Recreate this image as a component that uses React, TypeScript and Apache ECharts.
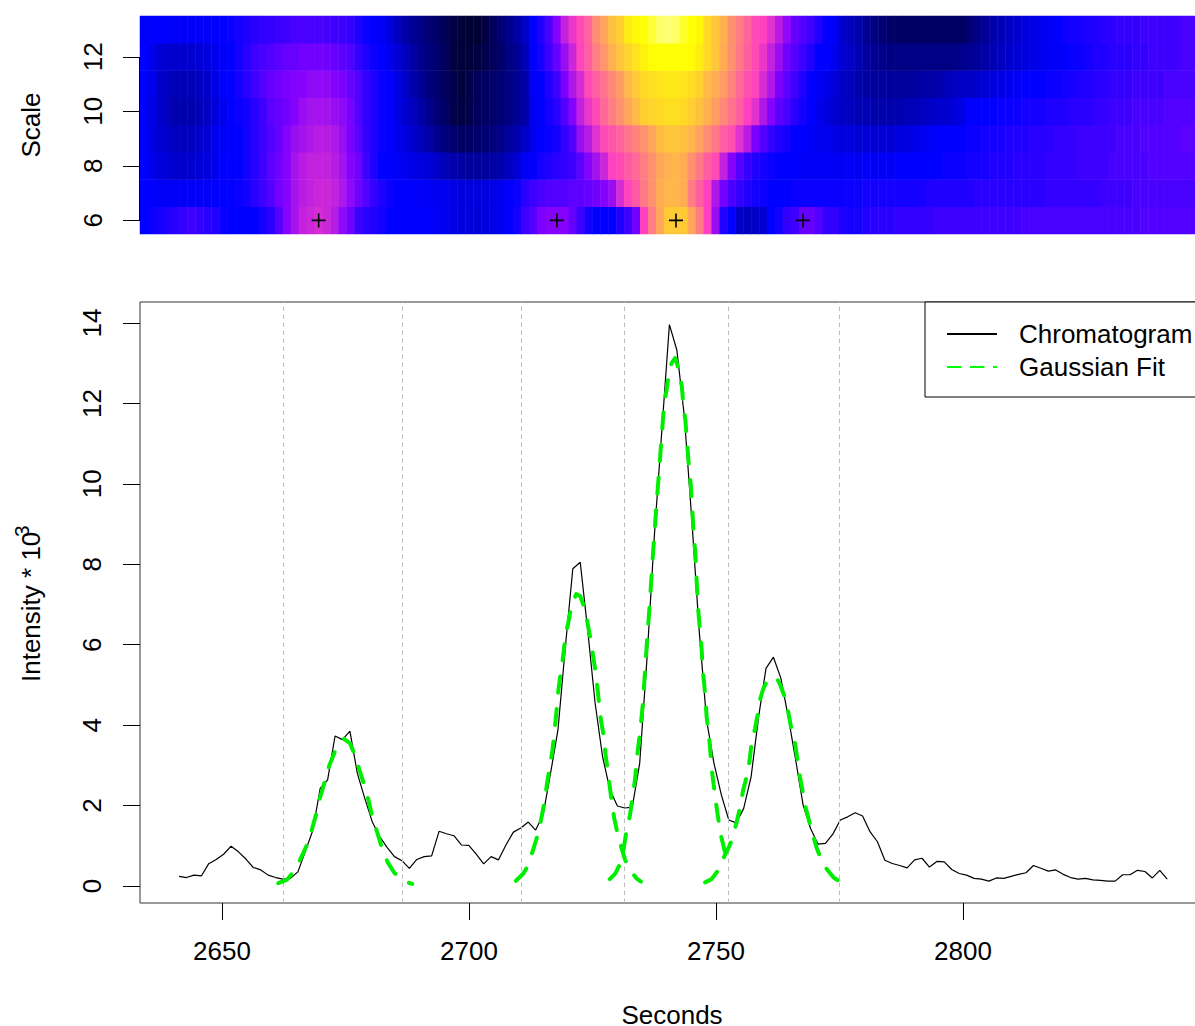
import React, { useEffect, useRef } from "react";
import * as echarts from "echarts";

const FONT = "Liberation Sans";
const FS = 26;

const scaleRows = ["6", "7", "8", "9", "10", "11", "12", "13"];
const scanColumns = Array.from({ length: 134 }, (_, i) => String(i));

const row6 = [
  25,26,27,28,29,30,31,30,29,28, 26,25,25,25,25,27,29,33,38,41, 44,45,46,45,43,39,36,31,29,28,
  27,25,25,25,25,25,25,24,23,22, 21,21,20,21,22,23,25,27,31,33, 37,38,38,38,35,31,27,25,25,25,
  28,31,36,50,62,70,77,77,77,70, 62,50,40,28,25,18,17,18,20,25, 27,30,31,35,35,33,30,30,28,27,
  27,28,29,29,29,30,30,30,30,30, 31,31,31,31,31,31,31,31,31,31, 31,32,32,32,32,32,32,32,32,32,
  32,32,32,32,32,32,33,33,33,33, 33,33,33,33];
const row7 = [
  25,25,24,24,24,24,24,24,24,25, 25,25,26,27,29,31,33,36,38,41, 43,44,45,45,44,42,39,36,33,30,
  28,26,25,25,25,24,24,23,23,22, 21,21,21,21,22,23,25,26,29,31, 32,33,33,33,34,34,35,36,38,40,
  46,51,55,61,66,71,73,73,71,62, 56,50,42,36,32,30,28,27,26,25, 25,25,26,26,26,26,26,26,26,26,
  26,27,27,27,27,27,27,27,27,28, 28,28,28,28,28,29,29,29,29,29, 29,29,29,29,30,30,30,30,30,30,
  30,31,31,31,31,32,32,32,32,32, 32,32,32,32];
const row8 = [
  25,23,21,20,19,19,19,20,21,23, 25,25,25,27,29,31,34,36,38,41, 43,44,44,44,43,41,38,36,31,28,
  25,25,24,23,22,21,20,18,16,15, 14,13,13,13,14,15,17,20,24,25, 27,28,29,30,31,34,38,41,45,50,
  52,55,58,62,66,70,72,73,71,66, 61,56,52,44,38,33,30,28,27,26, 25,25,25,24,24,24,24,24,24,24,
  24,24,24,24,24,25,25,25,25,25, 25,26,26,26,27,27,27,28,28,28, 29,29,29,29,30,30,30,30,31,31,
  31,31,32,32,32,32,32,33,33,33, 33,33,33,33];
const row9 = [
  25,22,20,18,17,17,17,18,20,23, 24,25,25,27,29,31,33,35,38,40, 41,42,43,43,42,40,37,34,30,28,
  26,25,23,21,19,16,14,11,9,7, 6,6,7,8,9,11,13,15,18,23, 25,26,27,30,33,40,43,47,52,54,
  57,60,63,66,70,74,76,76,75,73, 69,65,61,56,53,47,43,37,33,30, 28,27,25,25,24,23,23,22,21,21,
  20,20,20,20,20,21,21,22,23,24, 25,25,25,25,26,26,27,27,27,28, 28,28,29,29,29,30,30,30,31,31,
  31,31,31,32,32,32,33,33,33,33, 33,34,34,34];
const row10 = [
  25,22,19,17,15,15,15,16,18,21, 23,25,26,27,29,31,34,35,36,38, 40,41,41,41,40,39,37,33,30,28,
  26,25,22,19,17,14,11,8,6,3, 2,3,5,6,7,8,10,12,14,23, 25,27,29,33,38,44,48,52,58,62,
  66,70,74,78,79,80,81,81,80,78, 75,72,68,64,60,56,50,47,42,38, 34,32,29,27,25,23,21,19,18,17,
  16,16,15,15,15,15,16,16,17,18, 19,19,20,22,25,25,25,25,26,26, 26,27,27,27,28,28,28,29,29,29,
  30,30,31,31,31,32,32,32,32,33, 33,33,33,33];
const row11 = [
  25,23,19,17,16,16,16,17,19,22, 25,25,27,29,31,33,35,36,37,38, 38,39,39,39,38,37,35,33,30,28,
  26,25,22,18,15,12,9,7,5,3, 1,3,5,6,7,8,10,12,14,24, 25,28,31,37,42,46,52,56,60,64,
  68,73,77,80,81,82,83,83,82,81, 78,74,71,68,63,58,53,51,46,42, 37,34,31,28,25,24,22,20,18,17,
  15,14,13,13,13,13,13,13,14,14, 15,16,17,18,18,19,20,21,22,23, 24,25,25,25,26,26,27,27,28,28,
  29,29,30,30,30,31,31,31,31,32, 32,32,32,32];
const row12 = [
  25,23,20,19,19,19,19,20,21,23, 24,25,27,29,31,32,33,34,35,35, 36,36,36,36,35,34,33,30,28,26,
  25,23,20,17,14,11,9,7,5,2, 1,1,2,3,5,7,10,12,16,25, 27,31,35,40,45,51,56,62,67,72,
  76,79,82,85,87,88,88,88,88,87, 84,80,76,71,66,61,56,52,48,44, 40,36,33,31,28,25,25,23,20,18,
  16,13,12,11,10,10,10,10,10,10, 10,10,10,11,12,13,14,16,17,19, 20,21,22,23,24,24,25,26,26,27,
  28,28,29,29,29,30,30,31,31,31, 31,32,32,32];
const row13 = [
  24,25,25,25,24,24,24,24,24,25, 25,26,27,28,29,30,30,31,31,32, 32,32,32,32,31,31,30,28,26,25,
  24,21,17,14,12,10,8,6,4,2, 1,0,0,2,5,8,11,14,18,25, 28,32,38,44,48,52,57,65,70,75,
  78,84,86,88,92,96,97,96,91,88, 86,80,76,72,66,62,57,52,50,47, 43,39,35,33,31,28,25,24,19,17,
  15,12,10,8,7,6,6,6,6,6, 6,6,6,6,8,10,12,15,16,18, 19,21,22,23,24,25,26,27,27,28,
  28,29,29,30,30,30,31,31,31,31, 31,32,32,32];
const scaleValues = [row6, row7, row8, row9, row10, row11, row12, row13];
const rampColors = ["#000033", "#000099", "#0000FF", "#8000FF", "#FF40C0", "#FF8080", "#FFC040", "#FFFF00", "#FFFF99"];

const peakColumns = [22, 52, 67, 83];
const peakRow = ["6", "6", "6", "6"];

const chromStart = 2641.3;
const chromStep = 1.504;
const chromValues = [
  0.24,0.21,0.27,0.25,0.555,0.66,0.79,0.99,0.85,0.67, 0.46,0.40,0.27,0.21,0.17,0.19,0.35,0.86,1.38,2.43,
  2.64,3.73,3.64,3.85,2.80,2.18,1.60,1.23,0.96,0.73, 0.63,0.44,0.66,0.73,0.75,1.36,1.30,1.25,1.02,1.01,
  0.79,0.55,0.73,0.65,1.02,1.34,1.44,1.59,1.39,1.77, 2.80,3.88,5.95,7.89,8.05,6.37,4.55,3.22,2.39,1.99,
  1.94,1.96,3.05,5.70,8.78,11.37,13.96,13.33,11.70,9.15, 6.37,4.13,3.05,2.26,1.64,1.57,1.93,2.72,4.20,5.41,
  5.69,5.17,4.20,3.13,2.01,1.43,1.04,1.06,1.29,1.64, 1.72,1.82,1.74,1.35,1.10,0.64,0.56,0.51,0.45,0.65,
  0.69,0.47,0.61,0.60,0.41,0.31,0.27,0.19,0.17,0.12, 0.20,0.19,0.24,0.29,0.33,0.51,0.44,0.37,0.40,0.29,
  0.21,0.17,0.19,0.15,0.14,0.12,0.12,0.28,0.28,0.39, 0.36,0.20,0.39,0.17];

const fit1T = [2661.4,2663.1,2664.6,2665.8,2667.5,2668.2,2669.3,2669.8,2671.0,2671.7,2673.2,2674.7,2675.9,2676.9,2677.7,2678.9,2679.6,2680.5,2681.3,2682.5,2683.5,2684.7,2686.0,2687.4,2688.5];
const fit1V = [0.07,0.15,0.37,0.65,1.10,1.41,1.89,2.18,2.68,2.99,3.45,3.66,3.55,3.26,2.93,2.47,2.16,1.68,1.38,0.90,0.60,0.36,0.19,0.10,0.05];
const fit2T = [2709.5,2711.0,2712.0,2712.8,2714.0,2714.5,2715.3,2715.7,2716.4,2716.9,2717.6,2718.1,2718.6,2719.0,2719.6,2720.0,2720.8,2721.7,2722.5,2723.5,2724.0,2724.7,2725.1,2725.7,2726.0,2726.5,2726.7,2727.4,2727.6,2728.2,2728.5,2729.0,2729.4,2730.2,2731.2,2731.6,2732.6,2733.9,2734.8];
const fit2V = [0.13,0.31,0.52,0.83,1.31,1.60,2.10,2.47,3.01,3.38,4.21,4.88,5.33,5.66,6.29,6.49,6.99,7.26,7.21,6.87,6.53,6.08,5.75,5.25,4.92,4.34,4.13,3.63,3.30,2.76,2.47,2.01,1.68,1.23,0.81,0.65,0.40,0.19,0.11];
const fit3T = [2728.5,2729.6,2730.6,2731.2,2731.9,2732.6,2733.1,2733.6,2734.1,2734.6,2735.2,2735.6,2736.0,2736.5,2736.9,2737.2,2737.5,2738.0,2738.5,2739.0,2739.5,2740.0,2740.5,2741.0,2741.7,2742.2,2742.6,2743.1,2743.4,2743.8,2744.1,2744.3,2744.6,2744.9,2745.1,2745.3,2745.5,2745.8,2746.1,2746.4,2746.8,2747.1,2747.3,2747.6,2747.9,2748.1,2748.6,2748.8,2749.1,2749.5,2750.0,2750.4,2750.9,2751.7,2752.5];
const fit3V = [0.17,0.31,0.56,0.85,1.39,1.77,2.22,2.64,3.30,3.80,4.54,5.29,6.04,6.87,7.61,8.19,8.69,9.56,10.35,11.18,12.0,12.34,12.79,13.0,13.13,12.96,12.71,12.41,11.91,11.59,11.09,10.78,10.28,9.98,9.48,9.15,8.65,8.32,7.53,6.87,6.29,5.87,5.37,5.04,4.58,4.21,3.71,3.43,2.93,2.55,2.06,1.72,1.31,0.90,0.56];
const fit4T = [2747.8,2749.1,2750.5,2751.8,2752.5,2753.2,2754.2,2754.9,2755.5,2756.2,2756.8,2757.2,2757.9,2758.4,2758.9,2759.5,2760.1,2760.7,2761.5,2762.3,2763.0,2764.0,2764.6,2765.3,2766.0,2766.5,2767.0,2767.6,2768.2,2768.9,2769.7,2770.4,2771.2,2772.4,2773.8,2775.3];
const fit4V = [0.09,0.17,0.40,0.77,0.94,1.14,1.60,1.97,2.39,2.72,3.13,3.55,3.92,4.25,4.63,4.88,5.04,5.14,5.19,5.17,5.0,4.67,4.34,3.88,3.55,3.13,2.72,2.31,1.93,1.60,1.23,0.94,0.69,0.42,0.21,0.09];

const boundaryTimes = [2662.4, 2686.4, 2710.5, 2731.4, 2752.5, 2775.0];
const xTicks = [2650, 2700, 2750, 2800];
const yTicks = [0, 2, 4, 6, 8, 10, 12, 14];

const zip = (a: number[], b: number[]) => a.map((v, i) => [v, b[i]]);
const plus = "path://M6.2 0H7.8V6.2H14V7.8H7.8V14H6.2V7.8H0V6.2H6.2Z";

export default function App() {
  const ref = useRef<HTMLDivElement>(null);
  useEffect(() => {
    const chart = echarts.init(ref.current!, undefined, { renderer: "svg" });
    const heat: number[][] = [];
    scaleValues.forEach((row, r) => row.forEach((v, c) => heat.push([c, r, v])));
    const labelStyle = { fontFamily: FONT, fontSize: FS, color: "#000" };
    const fitSeries = (t: number[], v: number[]) => ({
      type: "line",
      name: "Gaussian Fit",
      xAxisIndex: 1,
      yAxisIndex: 1,
      data: zip(t, v),
      showSymbol: false,
      symbol: "none",
      silent: true,
      z: 5,
      lineStyle: { color: "#00EE00", width: 4, type: [16.2, 16.4], cap: "round", join: "round" },
      itemStyle: { color: "#00FF00" },
    });
    chart.setOption({
      animation: false,
      backgroundColor: "#fff",
      textStyle: { fontFamily: FONT },
      grid: [
        { left: 140, top: 16, width: 1064, height: 218, outerBoundsMode: "none" },
        { left: 140, top: 302, width: 1064, height: 601, outerBoundsMode: "none", show: true, borderColor: "#333", borderWidth: 1, backgroundColor: "transparent" },
      ],
      xAxis: [
        { gridIndex: 0, type: "category", data: scanColumns, show: false },
        {
          gridIndex: 1, type: "value", min: 2633.4, max: 2848.78,
          name: "Seconds", nameLocation: "middle", nameGap: 99,
          nameTextStyle: labelStyle,
          splitLine: { show: false },
          axisLine: { show: false, onZero: false },
          axisTick: { show: true, length: 17, customValues: xTicks, lineStyle: { color: "#000", width: 1 } },
          axisLabel: { show: true, customValues: xTicks, margin: 35, formatter: (v: number) => String(v), ...labelStyle },
        },
      ],
      yAxis: [
        {
          gridIndex: 0, type: "category", data: scaleRows,
          name: "Scale", nameLocation: "middle", nameGap: 96, nameRotate: 90,
          nameTextStyle: labelStyle,
          axisLine: { show: false },
          axisTick: { show: true, length: 17, interval: 1, alignWithLabel: true, lineStyle: { color: "#000", width: 1 } },
          axisLabel: { show: true, interval: 1, rotate: 90, margin: 34, ...labelStyle },
          splitLine: { show: false },
        },
        {
          gridIndex: 1, type: "value", min: -0.423, max: 14.523,
          splitLine: { show: false },
          axisLine: { show: false, onZero: false },
          axisTick: { show: true, length: 17, customValues: yTicks, lineStyle: { color: "#000", width: 1 } },
          axisLabel: { show: true, customValues: yTicks, rotate: 90, margin: 35, formatter: (v: number) => String(v), ...labelStyle },
        },
      ],
      visualMap: { show: false, seriesIndex: 0, dimension: 2, min: 0, max: 100, inRange: { color: rampColors } },
      legend: {
        show: true, orient: "vertical", left: 925, top: 302,
        padding: [19, 40, 17, 21],
        itemWidth: 50, itemHeight: 18, itemGap: 7,
        backgroundColor: "#fff", borderColor: "#000", borderWidth: 1, borderRadius: 0,
        textStyle: { fontFamily: FONT, fontSize: FS, color: "#000", padding: [0, 0, 0, 17] },
        data: [
          { name: "Chromatogram", lineStyle: { color: "#000", width: 2, type: "solid" }, itemStyle: { color: "transparent", borderWidth: 0 } },
          { name: "Gaussian Fit", lineStyle: { color: "#00FF00", width: 2, type: [14.5, 8.5], cap: "butt" }, itemStyle: { color: "transparent", borderWidth: 0 } },
        ],
      },
      series: [
        {
          type: "heatmap", name: "Scale", xAxisIndex: 0, yAxisIndex: 0, data: heat, progressive: 0, silent: true,
          emphasis: { disabled: true },
        },
        {
          type: "scatter", name: "Peaks", xAxisIndex: 0, yAxisIndex: 0,
          data: peakColumns.map((c, i) => [c, peakRow[i]]),
          symbol: plus, symbolSize: 14, itemStyle: { color: "#000", opacity: 1 }, silent: true, z: 6,
        },
        {
          type: "line", name: "Chromatogram", xAxisIndex: 1, yAxisIndex: 1,
          data: chromValues.map((v, i) => [chromStart + i * chromStep, v]),
          showSymbol: false, symbol: "none", silent: true, z: 4,
          lineStyle: { color: "#000", width: 1.2 }, itemStyle: { color: "#000" },
          markLine: {
            silent: true, symbol: "none", label: { show: false }, animation: false,
            lineStyle: { color: "#BEBEBE", width: 1, type: [4.5, 3.5] },
            data: boundaryTimes.map((t) => ({ xAxis: t })),
          },
        },
        fitSeries(fit1T, fit1V),
        fitSeries(fit2T, fit2V),
        fitSeries(fit3T, fit3V),
        fitSeries(fit4T, fit4V),
      ],
      graphic: [
        { type: "line", silent: true, shape: { x1: 139.5, y1: 57, x2: 139.5, y2: 220 }, style: { stroke: "#000", lineWidth: 1 }, z: 10 },
        { type: "text", silent: true, x: 31, y: 682, rotation: Math.PI / 2, style: { text: "Intensity * 10", fontFamily: FONT, fontSize: FS, fill: "#000", textAlign: "left", textVerticalAlign: "middle" } },
        { type: "text", silent: true, x: 21, y: 537, rotation: Math.PI / 2, style: { text: "3", fontFamily: FONT, fontSize: 21, fill: "#000", textAlign: "left", textVerticalAlign: "middle" } },
      ],
    });
    return () => chart.dispose();
  }, []);
  return <div ref={ref} style={{ position: "absolute", left: 0, top: 0, width: 1195, height: 1026, overflow: "hidden" }} />;
}
